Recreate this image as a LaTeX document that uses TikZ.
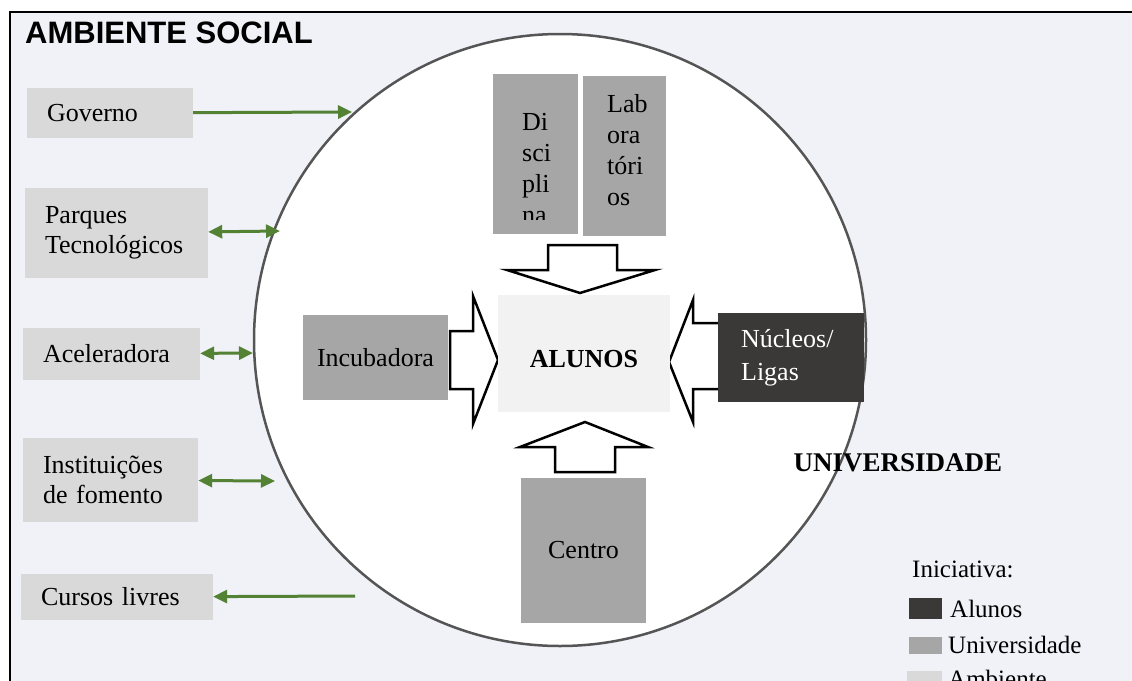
\documentclass[tikz,border=0pt]{standalone}
\usepackage{fontspec}
\setmainfont{Liberation Serif}
\newfontfamily\titlefont{Liberation Sans}
\usetikzlibrary{arrows.meta}
\definecolor{ambgray}{HTML}{D9D9D9}
\definecolor{unigray}{HTML}{A6A6A6}
\definecolor{aludark}{HTML}{3B3838}
\definecolor{alulight}{HTML}{F2F2F2}
\definecolor{leafgreen}{HTML}{548235}
\definecolor{circgray}{HTML}{555555}
\definecolor{bgtint}{HTML}{F0F2F7}
\newcommand{\txtsize}{\fontsize{26}{30}\selectfont}
\tikzset{
  ambbox/.style={fill=ambgray, inner xsep=20pt, inner ysep=0pt, align=left, font=\txtsize},
  unibox/.style={fill=unigray, inner sep=0pt, align=center, font=\txtsize},
  grone/.style={draw=leafgreen, line width=3pt, -{Triangle[length=14pt,width=13pt]}},
  grboth/.style={draw=leafgreen, line width=3pt, {Triangle[length=14pt,width=13pt]}-{Triangle[length=14pt,width=13pt]}},
  blockarrow/.style={draw=black, line width=2.5pt, fill=white, line join=miter},
  legtext/.style={anchor=base west, inner sep=0pt, font=\fontsize{25}{30}\selectfont}
}

\begin{document}
\begin{tikzpicture}[x=1pt, y=-1pt]
	%%%%% START %%%%%
	\useasboundingbox (0,0) rectangle (1132,680);
	\clip (0,0) rectangle (1132,680);

	\draw[line width=2.5pt, fill=bgtint] (10,12) rectangle (1160,720);
	\node[anchor=base west, inner sep=0pt, font=\titlefont\fontsize{31}{36}\selectfont\bfseries] (title) at (25,43) {AMBIENTE SOCIAL};

	\node[circle, draw=circgray, line width=2.5pt, fill=white, minimum size=612pt, inner sep=0pt] (univ) at (560,340) {};
	\node[font=\fontsize{27}{30}\selectfont\bfseries] (unilabel) at (898,463) {UNIVERSIDADE};

	% ambiente
	\node[ambbox, text width=126pt, minimum height=50pt] (gov) at (110,113) {Governo};
	\node[ambbox, text width=143pt, minimum height=90pt] (parq) at (116.5,233) {Parques\\Tecnológicos};
	\node[ambbox, text width=137pt, minimum height=52pt] (acel) at (111.5,354) {Aceleradora};
	\node[ambbox, text width=135pt, minimum height=84pt] (inst) at (110.5,480) {Instituições\\de fomento};
	\node[ambbox, text width=152pt, minimum height=46pt] (curs) at (117,597) {Cursos livres};

	\coordinate (govend) at (352,112);
	\coordinate (parqend) at (280,231);
	\coordinate (acelend) at (253,353);
	\coordinate (instend) at (275,481);
	\coordinate (cursend) at (355,596);
	\draw[grone] (gov) -- (govend);
	\draw[grboth] (parq) -- (parqend);
	\draw[grboth] (acel) -- (acelend);
	\draw[grboth] (inst) -- (instend);
	\draw[grone] (cursend) -- (curs);

	% block arrows
	\draw[blockarrow] (548,245) -- (617,245) -- (617,270) -- (655,270) -- (580,293) -- (507,270) -- (548,270) -- cycle;
	\draw[blockarrow] (450,331) -- (473,331) -- (473,296) -- (498,360) -- (473,424) -- (473,389) -- (450,389) -- cycle;
	\draw[blockarrow] (720,323) -- (693,323) -- (693,300) -- (669,362) -- (693,422) -- (693,389) -- (720,389) -- cycle;
	\draw[blockarrow] (555,472) -- (615,472) -- (615,447) -- (648,447) -- (585,422) -- (520,447) -- (555,447) -- cycle;

	% universidade
	\node[fill=alulight, minimum width=172pt, minimum height=117pt] (alunos) at (584,353.5) {};
	\node[font=\txtsize\bfseries] (alunostext) at (584,359) {ALUNOS};
	\node[unibox, minimum width=145pt, minimum height=85pt] (incub) at (375.5,357.5) {Incubadora};
	\node[fill=aludark, text=white, minimum width=146pt, minimum height=89pt, align=left, font=\fontsize{26}{33}\selectfont] (nucl) at (791,357.5) {Núcleos/\\Ligas\hspace*{42pt}};
	\node[unibox, minimum width=125pt, minimum height=145pt] (centro) at (583.5,550.5) {Centro};
	\node[unibox, minimum width=85pt, minimum height=160pt] (disc) at (535.5,154) {};
	\node[unibox, minimum width=83pt, minimum height=160pt] (lab) at (624.5,156) {};
	\begin{scope}
		\clip (493,74) rectangle (578,219);
		\node[anchor=north west, inner sep=0pt, align=left, font=\fontsize{26}{31}\selectfont] (disctext) at (522,113) {Di\\sci\\pli\\na};
	\end{scope}
	\node[anchor=north west, inner sep=0pt, align=left, font=\fontsize{26}{31}\selectfont] (labtext) at (607,94) {Lab\\ora\\tóri\\os};

	% legenda
	\node[legtext] (inic) at (912,577) {Iniciativa:};
	\fill[aludark] (909,598) rectangle (942,619);
	\node[legtext] (legalu) at (950,617) {Alunos};
	\fill[unigray] (909,637) rectangle (942,654);
	\node[legtext] (leguni) at (948,653) {Universidade};
	\fill[ambgray] (907,671) rectangle (942,690);
	\node[legtext] (legamb) at (948,687) {Ambiente};
	%%%%% END %%%%%
\end{tikzpicture}
\end{document}
